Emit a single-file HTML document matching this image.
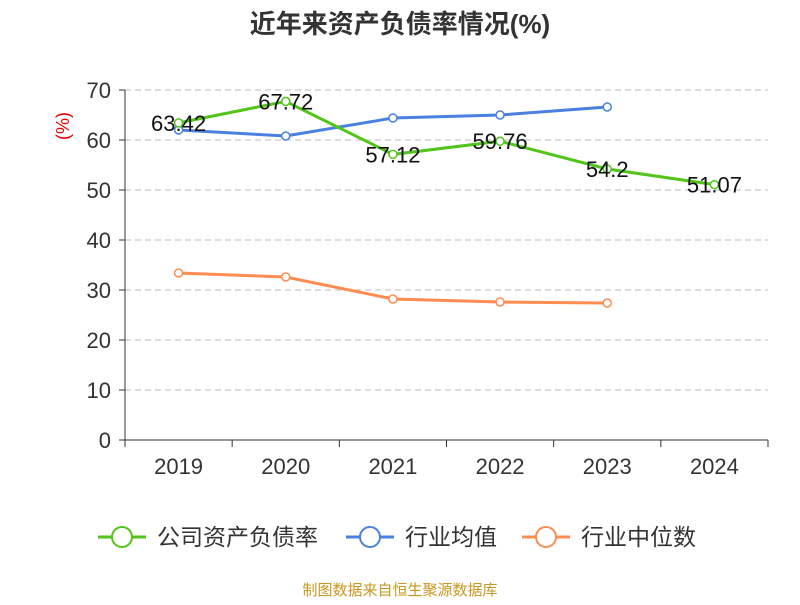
<!DOCTYPE html>
<html><head><meta charset="utf-8"><style>
body{margin:0;background:#fff;}
svg text{font-family:"Liberation Sans","Noto Sans CJK SC",sans-serif;}
</style></head><body>
<svg width="800" height="600" xmlns="http://www.w3.org/2000/svg">
<text x="400" y="33" text-anchor="middle" font-size="26" font-weight="bold" fill="#333">近年来资产负债率情况(%)</text>
<text x="69" y="126" font-size="18" fill="#e00" transform="rotate(-90 69 126)" text-anchor="middle">(%)</text>
<g id="grid"></g><g id="axes"></g><g id="series"></g>
<g>
<g><line x1="98" y1="537" x2="146" y2="537" stroke="#52c41a" stroke-width="3"/><circle cx="122" cy="537" r="10" fill="#fff" stroke="#52c41a" stroke-width="2"/><text x="157" y="545" font-size="23" fill="#333">公司资产负债率</text></g>
<g><line x1="346" y1="537" x2="394" y2="537" stroke="#4a80e0" stroke-width="3"/><circle cx="370" cy="537" r="10" fill="#fff" stroke="#4a80e0" stroke-width="2"/><text x="405" y="545" font-size="23" fill="#333">行业均值</text></g>
<g><line x1="522" y1="537" x2="570" y2="537" stroke="#ff8c50" stroke-width="3"/><circle cx="546" cy="537" r="10" fill="#fff" stroke="#ff8c50" stroke-width="2"/><text x="581" y="545" font-size="23" fill="#333">行业中位数</text></g>
</g>
<text x="400" y="595" text-anchor="middle" font-size="15" fill="#c8961e">制图数据来自恒生聚源数据库</text>
</svg>
<script>
const categories=["2019","2020","2021","2022","2023","2024"];
const companyValues=[63.42,67.72,57.12,59.76,54.2,51.07];
const industryAvg=[62,60.8,64.4,65,66.6];
const industryMedian=[33.4,32.6,28.2,27.6,27.4];
const yTicks=[0,10,20,30,40,50,60,70];
const NS="http://www.w3.org/2000/svg";
const x0=125,x1=768,band=(x1-x0)/categories.length;
const X=i=>x0+band*(i+0.5);
const Y=v=>440-v*5;
function mk(tag,attrs,parent,txt){const e=document.createElementNS(NS,tag);for(const k in attrs)e.setAttribute(k,attrs[k]);if(txt!==undefined)e.textContent=txt;document.getElementById(parent).appendChild(e);return e;}
yTicks.forEach(t=>{
 if(t>0){const g=mk('line',{x1:x0,x2:x1,y1:Y(t),y2:Y(t),stroke:'#bbb','stroke-dasharray':'6,4'},'grid');
 
 }
 const tk=mk('line',{x1:x0-6,x2:x0,y1:Y(t),y2:Y(t),stroke:'#333'},'axes');
 
 
 const l=mk('text',{x:x0-14,y:Y(t)+8,'text-anchor':'end','font-size':22,fill:'#333'},'axes',t);
 
 
});
const ya=mk('line',{x1:x0,x2:x0,y1:Y(70),y2:440,stroke:'#333'},'axes');


const xa=mk('line',{x1:x0,x2:x1,y1:440,y2:440,stroke:'#333'},'axes');


for(let i=0;i<=categories.length;i++){const t=mk('line',{x1:x0+band*i,x2:x0+band*i,y1:440,y2:447,stroke:'#333'},'axes');
 
 }
categories.forEach((c,i)=>{const l=mk('text',{x:X(i),y:474,'text-anchor':'middle','font-size':22,fill:'#333'},'axes',c);
 
 });
function series(vals,color,name,labels){
 const p=mk('polyline',{points:vals.map((v,i)=>X(i)+','+Y(v)).join(' '),fill:'none',stroke:color,'stroke-width':3},'series');
 
 
 vals.forEach((v,i)=>{const c=mk('circle',{cx:X(i),cy:Y(v),r:4,fill:'#fff',stroke:color,'stroke-width':1.5},'series');
  
  
  if(labels){const t=mk('text',{x:X(i),y:Y(v)+8,'text-anchor':'middle','font-size':22,fill:'#111'},'series',v);
   
   }
 });
}
series(industryMedian,'#ff8c50','industry-median',false);
series(industryAvg,'#4a80e0','industry-avg',false);
series(companyValues,'#52c41a','company',true);
</script>
</body></html>
